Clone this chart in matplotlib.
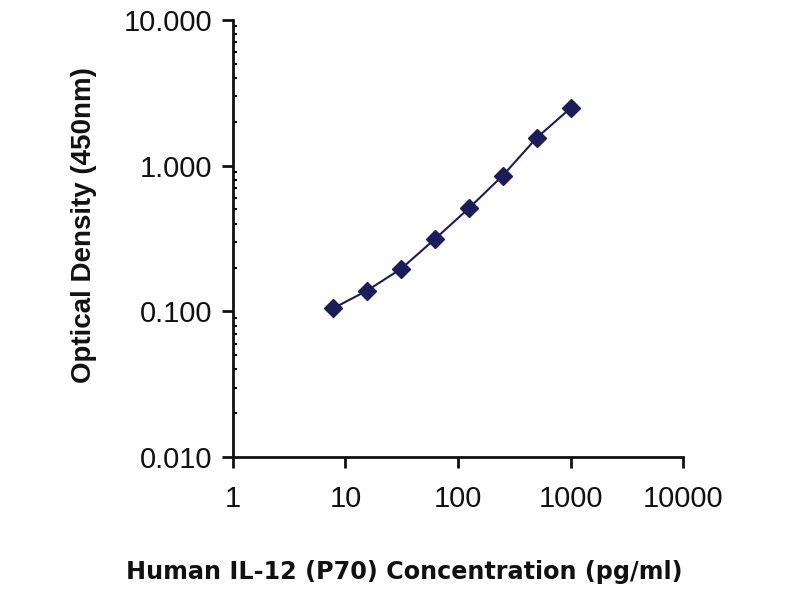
import numpy as np
import matplotlib.pyplot as plt
from matplotlib.ticker import FixedLocator, FixedFormatter, LogLocator, NullFormatter

# standard curve data
conc = [7.8, 15.6, 31.25, 62.5, 125, 250, 500, 1000]
od = [0.105, 0.139, 0.196, 0.314, 0.51, 0.855, 1.55, 2.48]

xticks = [1, 10, 100, 1000, 10000]
xticklabels = ['1', '10', '100', '1000', '10000']
yticks = [0.01, 0.1, 1, 10]
yticklabels = ['0.010', '0.100', '1.000', '10.000']

fig = plt.figure(figsize=(8, 6), dpi=100)
ax = fig.add_axes([0.291, 0.238, 0.563, 0.729])

navy = '#1c1c5a'
ax.plot(conc, od, color=navy, lw=1.5, marker='D', markersize=9.5,
        markerfacecolor=navy, markeredgecolor=navy)

ax.set_xscale('log')
ax.set_yscale('log')
ax.set_xlim(1, 10000)
ax.set_ylim(0.01, 10)

ax.xaxis.set_major_locator(FixedLocator(xticks))
ax.xaxis.set_major_formatter(FixedFormatter(xticklabels))
ax.xaxis.set_minor_locator(FixedLocator([]))
ax.yaxis.set_major_locator(FixedLocator(yticks))
ax.yaxis.set_major_formatter(FixedFormatter(yticklabels))
ax.yaxis.set_minor_locator(LogLocator(base=10, subs=np.arange(2, 10)))
ax.yaxis.set_minor_formatter(NullFormatter())

for s in ['top', 'right']:
    ax.spines[s].set_visible(False)
for s in ['left', 'bottom']:
    ax.spines[s].set_linewidth(2)
    ax.spines[s].set_color('#111111')

ax.tick_params(axis='both', which='major', direction='out', length=8, width=2,
               labelsize=21, colors='#111111', pad=8)
ax.tick_params(axis='x', which='major', pad=12)
ax.tick_params(axis='y', which='major', pad=7)
ax.tick_params(axis='y', which='minor', direction='in', length=3, width=1.5)
for lab in ax.get_xticklabels() + ax.get_yticklabels():
    lab.set_fontfamily('Liberation Sans')

# axis titles placed in figure coordinates (x title sits left of axes centre)
fig.text(404 / 800, 1 - 572 / 600, 'Human IL-12 (P70) Concentration (pg/ml)',
         fontsize=17.2, fontweight='bold', family='DejaVu Sans',
         ha='center', va='center', color='#111111')
fig.text(84 / 800, 1 - 225 / 600, 'Optical Density (450nm)', rotation=90,
         fontsize=20, fontweight='bold', family='Liberation Sans',
         ha='center', va='center', color='#111111')

fig.savefig('out.png', dpi=100)
